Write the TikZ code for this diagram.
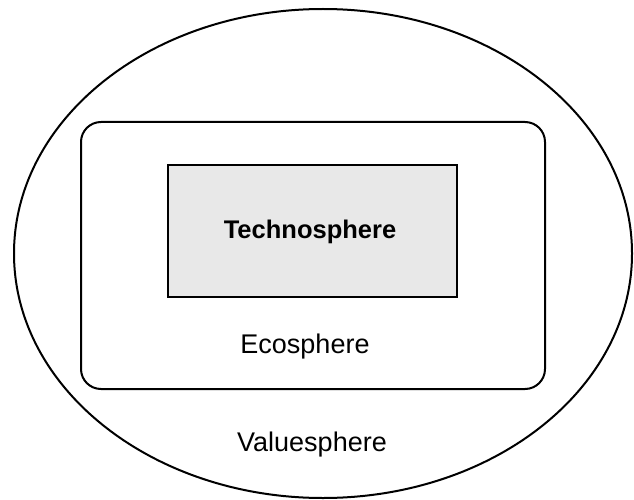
\documentclass[tikz,border=0pt]{standalone}
\usepackage{fontspec}
\setmainfont{Liberation Sans}
\usetikzlibrary{shapes.geometric}
\tikzset{
  sphereline/.style={draw=black, line width=2pt},
  lbl/.style={font=\fontsize{27}{32}\selectfont, inner sep=0pt, anchor=center}
}
\begin{document}
\begin{tikzpicture}[x=1pt,y=-1pt]
\useasboundingbox (0,0) rectangle (634,500);
\node[ellipse, sphereline, minimum width=618pt, minimum height=489pt, inner sep=0pt] (value) at (323,253.5) {};
\node[rectangle, sphereline, rounded corners=20pt, minimum width=464pt, minimum height=267pt, inner sep=0pt] (eco) at (313,255.5) {};
\node[rectangle, sphereline, fill=black!9, minimum width=289pt, minimum height=132pt, inner sep=0pt] (techno) at (312.5,231) {};
\node[lbl, font=\fontsize{25.5}{30}\selectfont\bfseries] (technolbl) at (310,232) {Technosphere};
\node[lbl] (ecolbl) at (305,347) {Ecosphere};
\node[lbl] (valuelbl) at (312,445) {Valuesphere};
\end{tikzpicture}
\end{document}
